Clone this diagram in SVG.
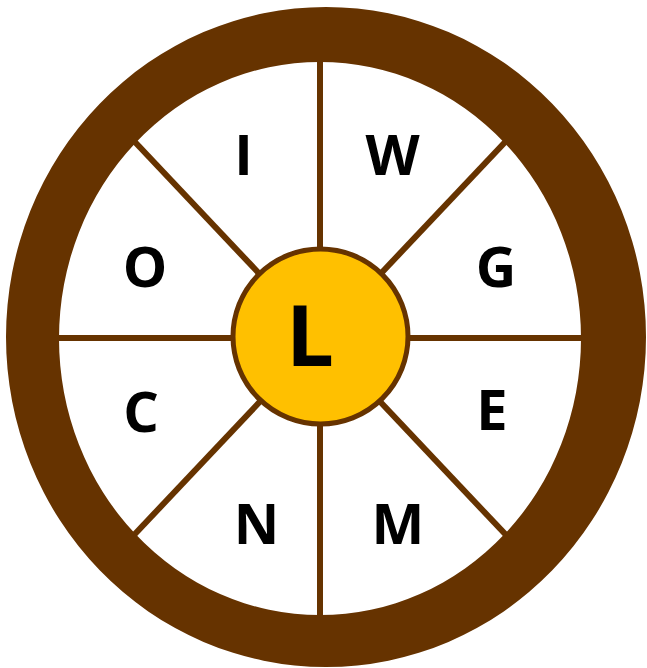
<svg xmlns="http://www.w3.org/2000/svg" width="647" height="668" viewBox="0 0 647 668">
  <style>
    .spoke { stroke: #663300; stroke-width: 6; fill: none; }
    .lbl { font-family: "Open Sans", "Liberation Sans", sans-serif; font-weight: bold; font-size: 56px; fill: #000000; text-anchor: middle; }
    .big { font-size: 85px; }
  </style>
  <rect width="647" height="668" fill="#ffffff"/>
  <g id="connectors">
    <line class="spoke" x1="320" y1="338" x2="320" y2="40"/>
    <line class="spoke" x1="320" y1="338" x2="320" y2="640"/>
    <line class="spoke" x1="320" y1="338" x2="30" y2="338"/>
    <line class="spoke" x1="320" y1="338" x2="620" y2="338"/>
    <line class="spoke" x1="320" y1="338" x2="117" y2="123"/>
    <line class="spoke" x1="320" y1="338" x2="523" y2="123"/>
    <line class="spoke" x1="320" y1="338" x2="117" y2="553"/>
    <line class="spoke" x1="320" y1="338" x2="523" y2="553"/>
  </g>
  <g id="rim">
    <path fill="#663300" fill-rule="evenodd" d="M6,337 A320,330 0 1,0 646,337 A320,330 0 1,0 6,337 Z M59,338.5 A261,276.5 0 1,1 581,338.5 A261,276.5 0 1,1 59,338.5 Z"/>
  </g>
  <g id="hub">
    <circle cx="320.5" cy="336.5" r="87.5" fill="#FFC000" stroke="#663300" stroke-width="5"/>
    <text class="lbl big" x="310" y="366">L</text>
  </g>
  <g id="node-I"><text class="lbl" x="243.5" y="175">I</text></g>
  <g id="node-W"><text class="lbl" x="392.5" y="175">W</text></g>
  <g id="node-G"><text class="lbl" x="496" y="287">G</text></g>
  <g id="node-E"><text class="lbl" x="492" y="430">E</text></g>
  <g id="node-M"><text class="lbl" x="398" y="544">M</text></g>
  <g id="node-N"><text class="lbl" x="256.5" y="544">N</text></g>
  <g id="node-C"><text class="lbl" x="141" y="432">C</text></g>
  <g id="node-O"><text class="lbl" x="145" y="287">O</text></g>
</svg>
